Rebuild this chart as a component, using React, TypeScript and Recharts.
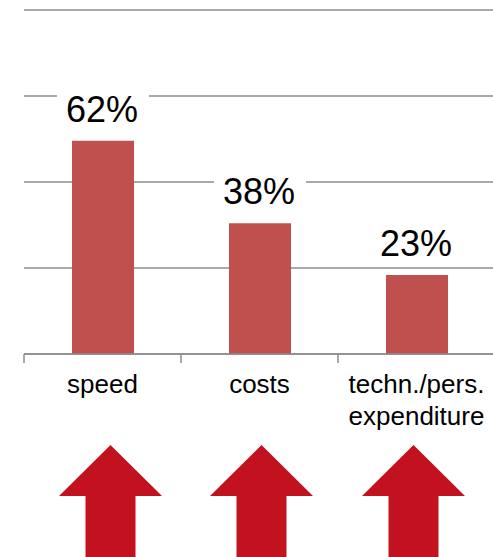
import { Bar, BarChart, CartesianGrid, LabelList, XAxis, YAxis } from 'recharts'

const categories = ['speed', 'costs', 'techn./pers.\nexpenditure']
const shares = [62, 38, 23]
const yTicks = [0, 25, 50, 75, 100]
const arrowCount = 3

const data = categories.map((name, i) => ({ name, value: shares[i] }))

const FONT = '"Liberation Sans", Arial, Helvetica, sans-serif'
const GRID = '#8c8c8c'

function CategoryTick(props: any) {
  const { x, y, payload } = props
  const half = payload?.offset ?? 471 / 6
  const lines = String(payload.value).split('\n')
  return (
    <g>
      <line x1={x - half} x2={x - half} y1={y - 8} y2={y + 1} stroke={GRID} strokeWidth={1.5} />
      <text x={x} y={y + 31} textAnchor="middle" fontFamily={FONT} fontSize={26} fill="#000">
        {lines.map((l, i) => (
          <tspan key={i} x={x} dy={i === 0 ? 0 : 32}>
            {l}
          </tspan>
        ))}
      </text>
    </g>
  )
}

function ValueLabel(props: any) {
  const { x, y, width, value } = props
  const cx = x + width / 2
  const base = y - 19
  return (
    <g>
      <rect x={cx - 46} y={base - 34} width={92} height={40} fill="#fff" />
      <text x={cx - 1} y={base} textAnchor="middle" fontFamily={FONT} fontSize={36} fill="#000">
        {value}%
      </text>
    </g>
  )
}

function Arrow() {
  return (
    <svg width={103} height={112} style={{ display: 'block' }}>
      <polygon points="51.5,0 103,51 76.5,51 76.5,112 26.5,112 26.5,51 0,51" fill="#c3121f" />
    </svg>
  )
}

export default function App() {
  return (
    <div style={{ position: 'absolute', left: 0, top: 0, width: 493, height: 557, overflow: 'hidden', background: '#fff' }}>
      <BarChart
        width={500}
        height={440}
        data={data}
        margin={{ top: 10, right: 5, left: 24, bottom: 0 }}
        barSize={62}
      >
        <CartesianGrid vertical={false} stroke={GRID} strokeWidth={1.5} />
        <YAxis hide domain={[0, 100]} ticks={yTicks} />
        <XAxis
          dataKey="name"
          height={86}
          interval={0}
          axisLine={{ stroke: GRID, strokeWidth: 1.5 }}
          tickLine={false}
          tick={<CategoryTick />}
        />
        <Bar dataKey="value" fill="#c0504d" isAnimationActive={false}>
          <LabelList dataKey="value" content={<ValueLabel />} />
        </Bar>
      </BarChart>
      <div style={{ position: 'absolute', left: 59, top: 445, display: 'flex', gap: 48.3 }}>
        {Array.from({ length: arrowCount }, (_, i) => (
          <Arrow key={i} />
        ))}
      </div>
    </div>
  )
}
